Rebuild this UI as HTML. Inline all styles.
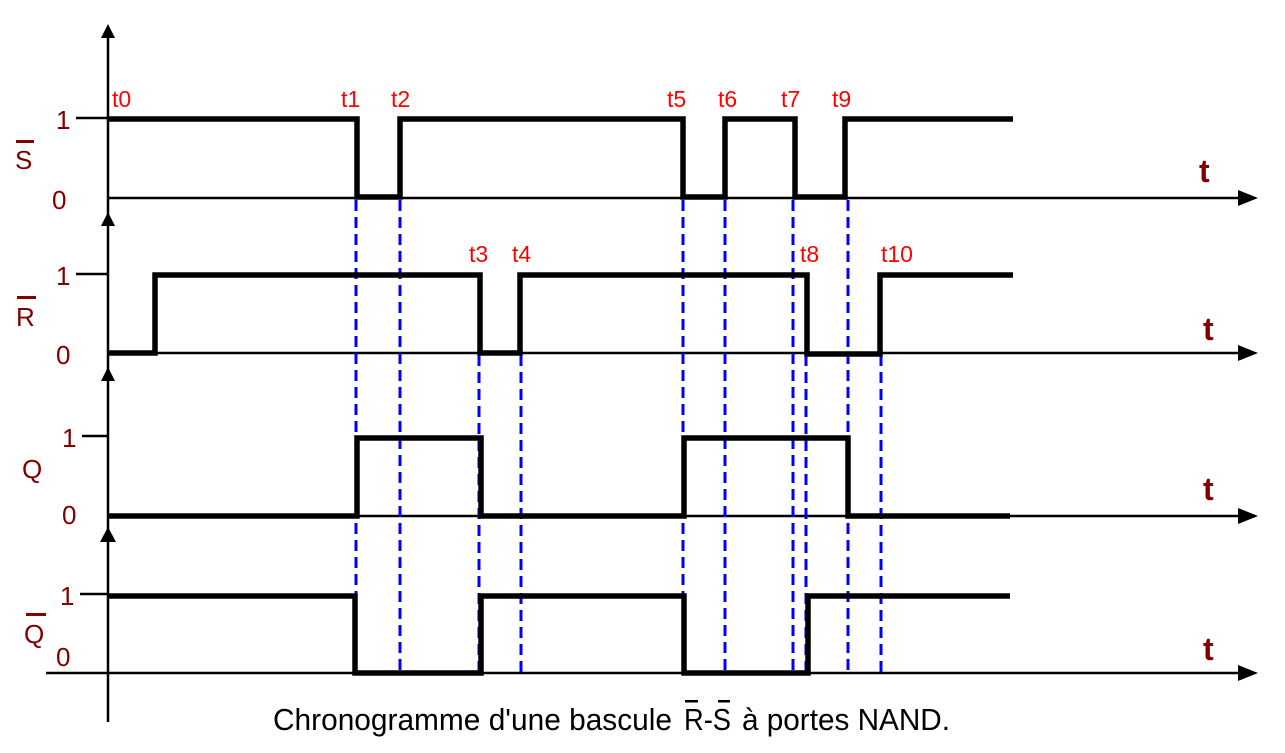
<!DOCTYPE html>
<html><head><meta charset="utf-8"><style>
html,body{margin:0;padding:0;background:#fff;width:1285px;height:753px;overflow:hidden}
svg{display:block}
</style></head><body>
<svg width="1285" height="753" viewBox="0 0 1285 753" xmlns="http://www.w3.org/2000/svg" font-family="Liberation Sans, sans-serif">
<g stroke="#000" stroke-width="2.5" fill="none">
<line x1="108" y1="28" x2="108" y2="722"/>
<line x1="108" y1="198" x2="1255" y2="198"/>
<line x1="108" y1="353" x2="1255" y2="353"/>
<line x1="108" y1="516" x2="1255" y2="516"/>
<line x1="46" y1="673" x2="1255" y2="673"/>
<line x1="76" y1="118" x2="108" y2="118"/>
<line x1="76" y1="274" x2="108" y2="274"/>
<line x1="82" y1="436" x2="108" y2="436"/>
<line x1="80" y1="594" x2="108" y2="594"/>
</g>
<g fill="#000">
<polygon points="108,24 101,38 115,38"/>
<polygon points="108,212 101,226 115,226"/>
<polygon points="108,367 101,381 115,381"/>
<polygon points="108,527 100,542 116,542"/>
<polygon points="1258,198 1238,190 1238,206"/>
<polygon points="1258,353 1238,345 1238,361"/>
<polygon points="1258,516 1238,508 1238,524"/>
<polygon points="1258,673 1238,665 1238,681"/>
</g>
<g stroke="#0000ff" stroke-width="3" stroke-dasharray="11,6" fill="none">
<line x1="356" y1="200" x2="356" y2="673"/>
<line x1="400" y1="200" x2="400" y2="673"/>
<line x1="479" y1="355" x2="479" y2="673"/>
<line x1="521" y1="355" x2="521" y2="673"/>
<line x1="683" y1="200" x2="683" y2="673"/>
<line x1="725" y1="200" x2="725" y2="673"/>
<line x1="793" y1="200" x2="793" y2="673"/>
<line x1="806" y1="355" x2="806" y2="673"/>
<line x1="848" y1="200" x2="848" y2="673"/>
<line x1="881" y1="355" x2="881" y2="673"/>
</g>
<g stroke="#000" stroke-width="5.5" fill="none" stroke-linejoin="miter">
<polyline points="108,119 357,119 357,197 400,197 400,119 683,119 683,197 725,197 725,119 795,119 795,197 845,197 845,119 1013,119"/>
<polyline points="108,353 155,353 155,275 480,275 480,353 520,353 520,275 807,275 807,354 880,354 880,275 1013,275"/>
<polyline points="108,516 357,516 357,438 481,438 481,516 684,516 684,438 848,438 848,516 1010,516"/>
<polyline points="108,596 355,596 355,673 481,673 481,596 684,596 684,673 808,673 808,596 1010,596"/>
</g>
<g fill="#ff0000" font-size="23">
<text x="112" y="107">t0</text>
<text x="341" y="107">t1</text>
<text x="391" y="107">t2</text>
<text x="667" y="107">t5</text>
<text x="718" y="107">t6</text>
<text x="781" y="107">t7</text>
<text x="832" y="107">t9</text>
<text x="469" y="262">t3</text>
<text x="512" y="262">t4</text>
<text x="800" y="262">t8</text>
<text x="881" y="262">t10</text>
</g>
<g fill="#800000" font-size="26">
<text x="56" y="129">1</text>
<text x="52" y="209">0</text>
<text x="56" y="285">1</text>
<text x="56" y="364">0</text>
<text x="62" y="447">1</text>
<text x="62" y="524">0</text>
<text x="60" y="605">1</text>
<text x="56" y="666">0</text>
<text x="15" y="169">S</text>
<text x="16" y="326">R</text>
<text x="22" y="478">Q</text>
<text x="24" y="643">Q</text>
</g>
<g fill="#800000">
<rect x="16" y="140" width="18" height="3"/>
<rect x="17" y="296" width="19" height="3"/>
<rect x="26" y="613" width="20" height="3"/>
</g>
<g fill="#800000" font-size="32" font-weight="bold">
<text x="1199" y="182">t</text>
<text x="1203" y="340">t</text>
<text x="1203" y="500">t</text>
<text x="1203" y="660">t</text>
</g>
<g font-size="31" fill="#000">
<text x="273" y="730" textLength="399" lengthAdjust="spacingAndGlyphs">Chronogramme d'une bascule</text>
<text x="684" y="730" textLength="47" lengthAdjust="spacingAndGlyphs">R-S</text>
<text x="742" y="730" textLength="208" lengthAdjust="spacingAndGlyphs">à portes NAND.</text>
</g>
<rect x="685" y="700" width="13" height="2.5" fill="#000"/>
<rect x="718" y="700" width="12" height="2.5" fill="#000"/>
</svg>
</body></html>
